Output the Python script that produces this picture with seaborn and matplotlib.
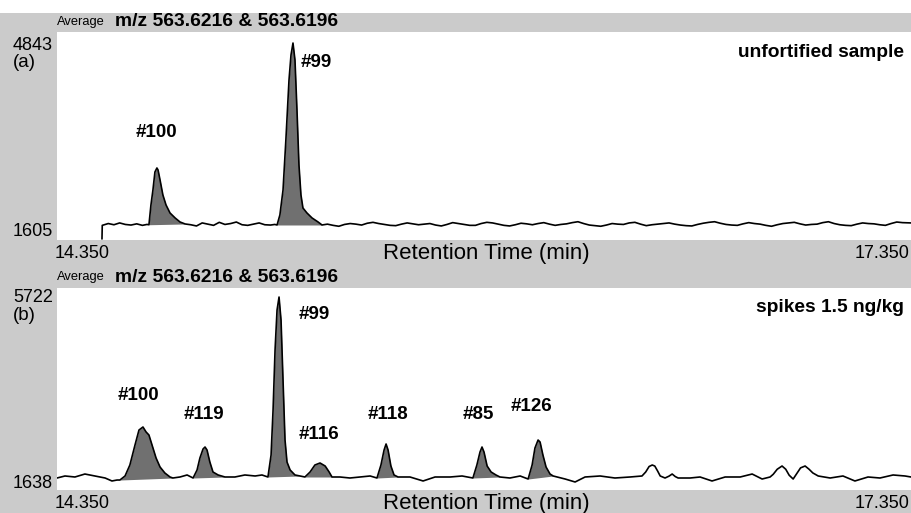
import numpy as np
import pandas as pd
import matplotlib
matplotlib.use("Agg")
import matplotlib.pyplot as plt
from matplotlib.patches import Rectangle
import seaborn as sns

# ---------------- data ----------------
# panel (a): unfortified sample
time_a = [14.508, 14.509, 14.53, 14.55, 14.57, 14.59, 14.61, 14.63, 14.65, 14.666,
          14.673, 14.680, 14.687, 14.694, 14.701, 14.705, 14.712, 14.722, 14.733, 14.747, 14.765, 14.782, 14.800,
          14.82, 14.84, 14.86, 14.88, 14.90, 14.92, 14.94, 14.96, 14.98, 15.00, 15.02, 15.04, 15.06, 15.08, 15.10, 15.115,
          15.123, 15.133, 15.144, 15.154, 15.165, 15.172, 15.179, 15.186, 15.193, 15.200, 15.207, 15.214, 15.228, 15.246, 15.267, 15.281,
          15.30, 15.32, 15.34, 15.36, 15.38, 15.40, 15.42, 15.44, 15.46, 15.48, 15.50, 15.52, 15.54, 15.56, 15.58, 15.60,
          15.62, 15.64, 15.66, 15.68, 15.70, 15.72, 15.74, 15.76, 15.78, 15.80, 15.82, 15.84, 15.86, 15.88, 15.90, 15.92,
          15.94, 15.96, 15.98, 16.00, 16.02, 16.04, 16.06, 16.08, 16.10, 16.12, 16.14, 16.16, 16.18, 16.20, 16.22, 16.24,
          16.26, 16.28, 16.30, 16.32, 16.34, 16.36, 16.38, 16.40, 16.42, 16.44, 16.46, 16.48, 16.50, 16.52, 16.54, 16.56,
          16.58, 16.60, 16.62, 16.64, 16.66, 16.68, 16.70, 16.72, 16.74, 16.76, 16.78, 16.80, 16.82, 16.84, 16.86, 16.88,
          16.90, 16.92, 16.94, 16.96, 16.98, 17.00, 17.02, 17.04, 17.06, 17.08, 17.10, 17.12, 17.14, 17.16, 17.18, 17.20,
          17.22, 17.24, 17.26, 17.28, 17.30, 17.32, 17.35]
intensity_a = [1605, 1830, 1860, 1840, 1870, 1845, 1835, 1855, 1830, 1845,
               1840, 2167, 2414, 2712, 2778, 2745, 2580, 2332, 2167, 2035, 1952, 1886, 1853,
               1840, 1820, 1870, 1850, 1830, 1880, 1845, 1860, 1885, 1840, 1830, 1850, 1870, 1840, 1835, 1845,
               1836, 2002, 2414, 3240, 4232, 4645, 4843, 4562, 3736, 2827, 2332, 2117, 2035, 1952, 1886, 1836,
               1850, 1830, 1815, 1845, 1860, 1850, 1835, 1865, 1880, 1860, 1845, 1830, 1825, 1850, 1870, 1855,
               1840, 1850, 1860, 1835, 1820, 1845, 1875, 1860, 1845, 1830, 1830, 1860, 1880, 1870, 1850, 1830,
               1820, 1840, 1865, 1855, 1840, 1860, 1875, 1850, 1830, 1845, 1855, 1875, 1890, 1860, 1835, 1825,
               1815, 1835, 1860, 1850, 1845, 1870, 1880, 1850, 1825, 1840, 1850, 1860, 1870, 1850, 1835, 1825,
               1820, 1845, 1865, 1880, 1890, 1865, 1845, 1835, 1830, 1855, 1875, 1860, 1850, 1830, 1815, 1840,
               1860, 1870, 1880, 1855, 1835, 1845, 1850, 1875, 1890, 1860, 1840, 1830, 1825, 1850, 1870, 1860,
               1855, 1840, 1830, 1860, 1885, 1875, 1870]
peaks_a = [(14.673, 14.800), (15.123, 15.281)]
labels_a = ["#100", "#99"]
label_pos_a = [(14.701, 3360), (15.26, 4520)]

# panel (b): spikes 1.5 ng/kg
time_b = [14.350, 14.378, 14.413, 14.448, 14.483, 14.519, 14.543, 14.561,
          14.571, 14.589, 14.606, 14.624, 14.638, 14.645, 14.652, 14.663, 14.673, 14.684, 14.698, 14.712, 14.729, 14.747, 14.757,
          14.782, 14.807,
          14.828, 14.842, 14.852, 14.863, 14.870, 14.877, 14.887, 14.898, 14.916, 14.940,
          14.975, 15.010, 15.046, 15.070,
          15.091, 15.102, 15.109, 15.116, 15.123, 15.130, 15.137, 15.144, 15.151, 15.158, 15.169, 15.186, 15.204,
          15.221, 15.239, 15.256, 15.274, 15.292, 15.306, 15.316,
          15.344, 15.379, 15.415, 15.450,
          15.474, 15.488, 15.499, 15.506, 15.513, 15.523, 15.534, 15.548,
          15.590, 15.636, 15.678, 15.731, 15.773,
          15.811, 15.825, 15.836, 15.843, 15.850, 15.861, 15.875, 15.892, 15.906,
          15.941, 15.977,
          16.005, 16.019, 16.029, 16.040, 16.047, 16.057, 16.068, 16.082, 16.093,
          16.135, 16.170, 16.205, 16.258, 16.310, 16.363, 16.405,
          16.418, 16.430, 16.441, 16.450, 16.460, 16.469, 16.486, 16.500, 16.511, 16.522, 16.532, 16.574, 16.609, 16.651,
          16.697, 16.750, 16.792, 16.827,
          16.855, 16.866, 16.880, 16.897, 16.910, 16.922, 16.936, 16.948, 16.962, 16.978, 16.992, 17.005, 17.024,
          17.066, 17.111, 17.153, 17.199, 17.241, 17.287, 17.329, 17.350]
intensity_b = [1769, 1813, 1791, 1856, 1813, 1769, 1704, 1725,
               1725, 1813, 2053, 2490, 2817, 2850, 2883, 2774, 2708, 2490, 2206, 2009, 1878, 1791, 1769,
               1791, 1835,
               1769, 1944, 2206, 2402, 2446, 2381, 2118, 1900, 1835, 1791,
               1791, 1835, 1813, 1835,
               1791, 2271, 3254, 4565, 5438, 5722, 5220, 3909, 2599, 2118, 1944, 1835, 1813,
               1791, 1900, 2053, 2097, 2031, 1900, 1791,
               1791, 1769, 1791, 1813,
               1769, 2053, 2381, 2512, 2381, 2031, 1835, 1791,
               1791, 1704, 1791, 1791, 1813,
               1769, 2053, 2337, 2446, 2337, 2031, 1900, 1835, 1791,
               1769, 1813,
               1747, 2053, 2424, 2599, 2555, 2271, 2009, 1856, 1813,
               1747, 1682, 1791, 1813, 1769, 1791, 1813,
               1900, 2020, 2053, 2030, 1920, 1813, 1769, 1810, 1856, 1800, 1769, 1769, 1791, 1704,
               1791, 1791, 1856, 1747,
               1791, 1850, 1960, 2031, 1960, 1830, 1747, 1860, 1990, 2031, 1960, 1880, 1813,
               1769, 1813, 1704, 1791, 1769, 1835, 1813, 1791]
peaks_b = [(14.571, 14.757), (14.828, 14.940), (15.091, 15.204), (15.221, 15.316),
           (15.474, 15.548), (15.811, 15.906), (16.005, 16.093)]
labels_b = ["#100", "#119", "#99", "#116", "#118", "#85", "#126"]
label_pos_b = [(14.635, 3570), (14.867, 3150), (15.255, 5330), (15.27, 2710),
               (15.512, 3150), (15.830, 3150), (16.016, 3330)]

x_ticklabels = ["14.350", "17.350"]
x_title = "Retention Time (min)"
header_small = "Average"
header_big = "m/z 563.6216 & 563.6196"
ymin_a, ymax_a = 1605, 4843
ymin_b, ymax_b = 1638, 5722
sample_a = "unfortified sample"
sample_b = "spikes 1.5 ng/kg"

# ---------------- styling ----------------
sns.set_theme(style="white")
plt.rcParams['font.family'] = ['Liberation Sans', 'DejaVu Sans']
plt.rcParams['text.color'] = 'black'

W, H = 911, 513
BG = "#cbcbcb"
FILL = "#707070"
fig = plt.figure(figsize=(W / 100, H / 100), dpi=100, facecolor=BG)

def fx(x):
    return x / W

def fy(y):
    return 1 - y / H

# white strip at top
fig.patches.append(Rectangle((0, fy(13)), 1, 13 / H, transform=fig.transFigure,
                             facecolor="white", edgecolor="none", zorder=0))

def make_panel(top, bottom, ylo, yhi):
    ax = fig.add_axes([fx(57), fy(bottom), 1 - fx(57), (bottom - top) / H])
    ax.set_facecolor("white")
    for s in ax.spines.values():
        s.set_visible(False)
    ax.set_xticks([])
    ax.set_yticks([])
    ax.set_xlim(14.35, 17.35)
    ax.set_ylim(ylo, yhi)
    return ax

ax_a = make_panel(32, 240, 1588, 5025)
ax_b = make_panel(288, 490, 1507, 5919)

def draw_trace(ax, t, inten, peaks, labels, lpos):
    df = pd.DataFrame({"t": t, "I": inten})
    tt = np.asarray(t)
    ii = np.asarray(inten, dtype=float)
    for (t0, t1) in peaks:
        m = (tt >= t0) & (tt <= t1)
        i0 = np.interp(t0, tt, ii)
        i1 = np.interp(t1, tt, ii)
        base = i0 + (i1 - i0) * (tt[m] - t0) / (t1 - t0)
        ax.fill_between(tt[m], base, ii[m], color=FILL, linewidth=0, zorder=2)
    sns.lineplot(data=df, x="t", y="I", ax=ax, color="black", linewidth=1.2,
                 sort=False, estimator=None, zorder=3)
    for lab, (x, y) in zip(labels, lpos):
        ax.text(x, y, lab, ha="center", va="center", fontsize=13.5, fontweight="bold",
                color="black", zorder=4)
    ax.set_xlabel("")
    ax.set_ylabel("")

draw_trace(ax_a, time_a, intensity_a, peaks_a, labels_a, label_pos_a)
draw_trace(ax_b, time_b, intensity_b, peaks_b, labels_b, label_pos_b)

ax_a.text(0.992, 0.9, sample_a, transform=ax_a.transAxes, ha="right", va="center",
          fontsize=13.8, fontweight="bold", color="black")
ax_b.text(0.992, 0.905, sample_b, transform=ax_b.transAxes, ha="right", va="center",
          fontsize=13.8, fontweight="bold", color="black")

def panel_text(hdr_y, ymax_y, tag_y, ymin_y, xlab_y, ymax, ymin, tag):
    kw = dict(color="black")
    fig.text(fx(57), fy(hdr_y), header_small, fontsize=9.3, ha="left", va="center", **kw)
    fig.text(fx(115), fy(hdr_y), header_big, fontsize=13.9, fontweight="bold", ha="left", va="center", **kw)
    fig.text(fx(13), fy(ymax_y), str(ymax), fontsize=13, ha="left", va="center", **kw)
    fig.text(fx(13), fy(tag_y), tag, fontsize=13.5, ha="left", va="center", **kw)
    fig.text(fx(13), fy(ymin_y), str(ymin), fontsize=13, ha="left", va="center", **kw)
    fig.text(fx(55), fy(xlab_y), x_ticklabels[0], fontsize=13, ha="left", va="center", **kw)
    fig.text(fx(486), fy(xlab_y + 1), x_title, fontsize=16, ha="center", va="center", **kw)
    fig.text(fx(910), fy(xlab_y), x_ticklabels[1], fontsize=13, ha="right", va="center", **kw)

panel_text(22, 45, 63, 232, 253, ymax_a, ymin_a, "(a)")
panel_text(277, 297, 316, 483, 503, ymax_b, ymin_b, "(b)")

fig.savefig("out.png", dpi=100, facecolor=BG)
